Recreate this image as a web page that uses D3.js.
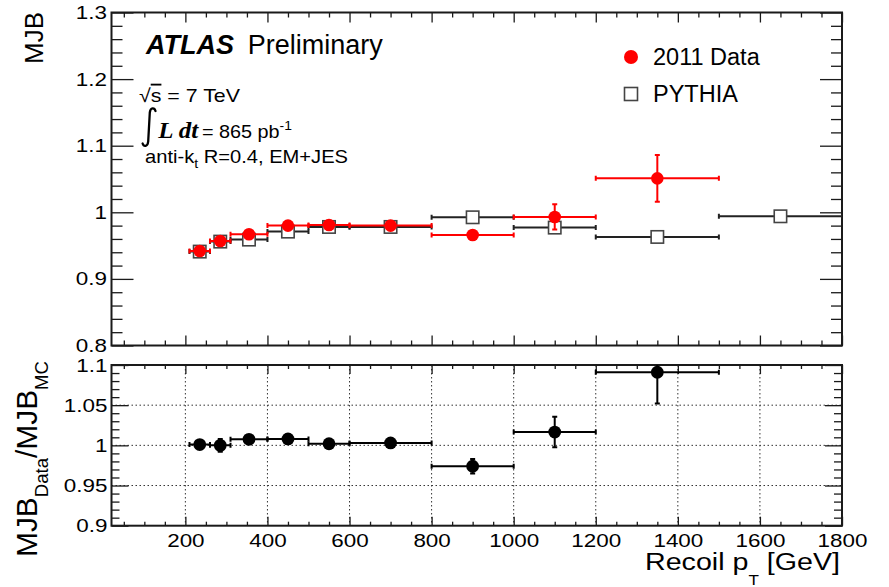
<!DOCTYPE html>
<html><head><meta charset="utf-8">
<script src="https://cdn.jsdelivr.net/npm/d3@7"></script>
<style>
html,body{margin:0;padding:0;background:#fff;}
svg{display:block;font-family:"Liberation Sans",Arial,Helvetica,sans-serif;}
</style></head>
<body>
<svg id="c" width="889" height="587"></svg>
<script>
// ---------------- data ----------------
const binLo     = [210, 260, 310, 400, 500, 600, 800, 1000, 1200, 1500];
const binHi     = [260, 310, 400, 500, 600, 800, 1000, 1200, 1500, 1800];
const binCenter = [235, 285, 355, 450, 550, 700, 900, 1100, 1350, 1650];
const dataMJB   = [0.942, 0.957, 0.967, 0.980, 0.981, 0.980, 0.966, 0.993, 1.051];
const dataErr   = [0.003, 0.003, 0.003, 0.003, 0.003, 0.003, 0.004, 0.019, 0.035];
const mcMJB     = [0.941, 0.956, 0.959, 0.971, 0.978, 0.978, 0.9925, 0.977, 0.963, 0.994];
const mcErr     = [0.002, 0.002, 0.002, 0.002, 0.002, 0.002, 0.003, 0.004, 0.004, 0.004];
const ratio     = [1.001, 1.000, 1.0075, 1.008, 1.002, 1.003, 0.974, 1.0165, 1.091];
const ratioErr  = [0.004, 0.008, 0.003, 0.003, 0.002, 0.003, 0.009, 0.019, 0.039];
const xTickVals   = [200, 400, 600, 800, 1000, 1200, 1400, 1600, 1800];
const xTickLabels = ["200","400","600","800","1000","1200","1400","1600","1800"];
const topYTickVals   = [0.8, 0.9, 1.0, 1.1, 1.2, 1.3];
const topYTickLabels = ["0.8","0.9","1","1.1","1.2","1.3"];
const botYTickVals   = [0.9, 0.95, 1.0, 1.05, 1.1];
const botYTickLabels = ["0.9","0.95","1","1.05","1.1"];
const legendLabels = ["2011 Data", "PYTHIA"];

// ---------------- layout ----------------
const L = 111.5, R = 842;
const T1 = 12.5, B1 = 345.5;
const T2 = 365, B2 = 525.7;
const red = "#ff0000", ink = "#1a1a1a";

const svg = d3.select("#c");
const x = d3.scaleLinear().domain([20, 1800]).range([L, R]);
const yT = d3.scaleLinear().domain([0.8, 1.3]).range([B1, T1]);
const yB = d3.scaleLinear().domain([0.9, 1.1]).range([B2, T2]);

function stretch(sel, k) {
  sel.each(function(){
    const w = this.getComputedTextLength();
    d3.select(this).attr("textLength", w * k).attr("lengthAdjust", "spacingAndGlyphs");
  });
}
function fixW(sel, w) {
  sel.attr("textLength", w).attr("lengthAdjust", "spacingAndGlyphs");
}
function styleAxis(g) {
  g.select(".domain").remove();
  g.selectAll(".tick line").attr("stroke", ink).attr("stroke-width", 1.3);
  g.selectAll("text").attr("fill", "#000");
}
function rangeVals(a, b, s) { const o=[]; for (let v=a; v<=b+1e-9; v+=s) o.push(+v.toFixed(4)); return o; }

// ---------------- grid (ratio panel) ----------------
const grid = svg.append("g").attr("stroke", "#333").attr("stroke-width", 1).attr("stroke-dasharray", "1.5,2.5");
grid.selectAll("line.v").data(xTickVals.filter(v => v < 1800)).join("line")
  .attr("x1", d => x(d)).attr("x2", d => x(d)).attr("y1", T2).attr("y2", B2);
grid.selectAll("line.h").data([0.95, 1.0, 1.05]).join("line")
  .attr("x1", L).attr("x2", R).attr("y1", d => yB(d)).attr("y2", d => yB(d));

// ---------------- axes ----------------
const xMinor = rangeVals(50, 1800, 50).filter(v => xTickVals.indexOf(v) < 0);
// top panel
[[T1, d3.axisTop], [B1, d3.axisBottom]].forEach(([yy, ax]) => {
  svg.append("g").attr("transform", `translate(0,${yy})`)
    .call(ax(x).tickValues(xTickVals).tickSize(-10).tickFormat("")).call(styleAxis);
  svg.append("g").attr("transform", `translate(0,${yy})`)
    .call(ax(x).tickValues(xMinor).tickSize(-5).tickFormat("")).call(styleAxis);
});
const yTMinor = rangeVals(0.8, 1.3, 0.02).filter(v => Math.abs((v*10) - Math.round(v*10)) > 1e-6);
svg.append("g").attr("transform", `translate(${L},0)`)
  .call(d3.axisLeft(yT).tickValues(topYTickVals).tickSize(-22).tickPadding(4.5)
    .tickFormat((d,i) => topYTickLabels[i])).call(styleAxis)
  .selectAll("text").attr("font-size", 19).call(stretch, 1.18);
svg.append("g").attr("transform", `translate(${L},0)`)
  .call(d3.axisLeft(yT).tickValues(yTMinor).tickSize(-11).tickFormat("")).call(styleAxis);
svg.append("g").attr("transform", `translate(${R},0)`)
  .call(d3.axisRight(yT).tickValues(topYTickVals).tickSize(-22).tickFormat("")).call(styleAxis);
svg.append("g").attr("transform", `translate(${R},0)`)
  .call(d3.axisRight(yT).tickValues(yTMinor).tickSize(-11).tickFormat("")).call(styleAxis);

// bottom panel
svg.append("g").attr("transform", `translate(0,${B2})`)
  .call(d3.axisBottom(x).tickValues(xTickVals).tickSize(-9).tickPadding(7.5)
    .tickFormat((d,i) => xTickLabels[i])).call(styleAxis)
  .selectAll("text").attr("font-size", 19).call(stretch, 1.18);
svg.append("g").attr("transform", `translate(0,${B2})`)
  .call(d3.axisBottom(x).tickValues(xMinor).tickSize(-4).tickFormat("")).call(styleAxis);
svg.append("g").attr("transform", `translate(0,${T2})`)
  .call(d3.axisTop(x).tickValues(xTickVals).tickSize(-9).tickFormat("")).call(styleAxis);
svg.append("g").attr("transform", `translate(0,${T2})`)
  .call(d3.axisTop(x).tickValues(xMinor).tickSize(-4).tickFormat("")).call(styleAxis);
const yBMinor = rangeVals(0.9, 1.1, 0.01).filter(v => Math.abs(v*20 - Math.round(v*20)) > 1e-6);
svg.append("g").attr("transform", `translate(${L},0)`)
  .call(d3.axisLeft(yB).tickValues(botYTickVals).tickSize(-17).tickPadding(4)
    .tickFormat((d,i) => botYTickLabels[i])).call(styleAxis)
  .selectAll("text").attr("font-size", 19).call(stretch, 1.18);
svg.append("g").attr("transform", `translate(${L},0)`)
  .call(d3.axisLeft(yB).tickValues(yBMinor).tickSize(-8).tickFormat("")).call(styleAxis);
svg.append("g").attr("transform", `translate(${R},0)`)
  .call(d3.axisRight(yB).tickValues(botYTickVals).tickSize(-17).tickFormat("")).call(styleAxis);
svg.append("g").attr("transform", `translate(${R},0)`)
  .call(d3.axisRight(yB).tickValues(yBMinor).tickSize(-8).tickFormat("")).call(styleAxis);

// frames
svg.append("rect").attr("x", L).attr("y", T1).attr("width", R-L).attr("height", B1-T1)
  .attr("fill", "none").attr("stroke", ink).attr("stroke-width", 2);
svg.append("rect").attr("x", L).attr("y", T2).attr("width", R-L).attr("height", B2-T2)
  .attr("fill", "none").attr("stroke", ink).attr("stroke-width", 2);

// clip paths
const defs = svg.append("defs");
defs.append("clipPath").attr("id", "clipT").append("rect").attr("x", L).attr("y", T1).attr("width", R-L).attr("height", B1-T1);
defs.append("clipPath").attr("id", "clipB").append("rect").attr("x", L).attr("y", T2).attr("width", R-L).attr("height", B2-T2);

// error-bar helper
function errorBars(g, rows, yS, color, sw, markerHalf) {
  const cap = 2.5;
  rows.forEach(r => {
    const xl = x(r.lo), xh = x(r.hi), xc = x(r.c), yc = yS(r.v);
    g.append("line").attr("x1", xl).attr("x2", xh).attr("y1", yc).attr("y2", yc)
      .attr("stroke", color).attr("stroke-width", sw);
    g.append("line").attr("x1", xl).attr("x2", xl).attr("y1", yc-cap).attr("y2", yc+cap)
      .attr("stroke", color).attr("stroke-width", sw);
    g.append("line").attr("x1", xh).attr("x2", xh).attr("y1", yc-cap).attr("y2", yc+cap)
      .attr("stroke", color).attr("stroke-width", sw);
    const y1 = yS(r.v + r.e), y2 = yS(r.v - r.e);
    if (y2 - y1 > 2*markerHalf) {
      g.append("line").attr("x1", xc).attr("x2", xc).attr("y1", y1).attr("y2", y2)
        .attr("stroke", color).attr("stroke-width", sw);
      [y1, y2].forEach(yy => g.append("line").attr("x1", xc-cap).attr("x2", xc+cap)
        .attr("y1", yy).attr("y2", yy).attr("stroke", color).attr("stroke-width", sw));
    }
  });
}

// ---------------- top panel marks ----------------
const gT = svg.append("g").attr("clip-path", "url(#clipT)");
const mcRows = mcMJB.map((v,i) => ({lo: binLo[i], hi: binHi[i], c: binCenter[i], v, e: mcErr[i]}));
const dRows = dataMJB.map((v,i) => ({lo: binLo[i], hi: binHi[i], c: binCenter[i], v, e: dataErr[i]}));
errorBars(gT.append("g"), mcRows, yT, "#222", 2, 6);
gT.append("g").selectAll("rect").data(mcRows).join("rect")
  .attr("x", d => x(d.c) - 6.2).attr("y", d => yT(d.v) - 6.2).attr("width", 12.4).attr("height", 12.4)
  .attr("fill", "#fff").attr("stroke", "#444").attr("stroke-width", 1.6);
errorBars(gT.append("g"), dRows, yT, red, 2, 6);
gT.append("g").selectAll("circle").data(dRows).join("circle")
  .attr("cx", d => x(d.c)).attr("cy", d => yT(d.v)).attr("r", 6.3).attr("fill", red);

// ---------------- ratio panel marks ----------------
const gB = svg.append("g").attr("clip-path", "url(#clipB)");
const rRows = ratio.map((v,i) => ({lo: binLo[i], hi: binHi[i], c: binCenter[i], v, e: ratioErr[i]}));
errorBars(gB.append("g"), rRows, yB, "#000", 2, 6);
gB.append("g").selectAll("circle").data(rRows).join("circle")
  .attr("cx", d => x(d.c)).attr("cy", d => yB(d.v)).attr("r", 6.4).attr("fill", "#000");

// ---------------- legend ----------------
svg.append("circle").attr("cx", 631).attr("cy", 57).attr("r", 7).attr("fill", red);
svg.append("rect").attr("x", 624.5).attr("y", 87.5).attr("width", 13).attr("height", 13)
  .attr("fill", "#fff").attr("stroke", "#444").attr("stroke-width", 1.6);
svg.selectAll("text.leg").data(legendLabels).join("text").attr("class", "leg")
  .attr("x", 653).attr("y", (d,i) => 65 + i*37).attr("font-size", 23.5).text(d => d);

// ---------------- annotations ----------------
const atl = svg.append("text").attr("x", 146).attr("y", 54.3).attr("font-size", 27);
atl.append("tspan").attr("font-weight", "bold").attr("font-style", "italic").text("ATLAS");
atl.append("tspan").attr("x", 247.7).text("Preliminary");

const sq = svg.append("text").attr("x", 139).attr("y", 101.7).attr("font-size", 18.5);
sq.append("tspan").text("√");
sq.append("tspan").attr("text-decoration", "overline").text("s");
sq.append("tspan").text(" = 7 TeV");
fixW(sq, 101);

// integral sign (drawn as a glyph-like stroke)
svg.append("path")
  .attr("d", "M155.5,111 C154.5,107.5 150.5,107 149.8,112.5 L148.2,141.5 C147.6,147 143.8,147 142.6,143.5")
  .attr("fill", "none").attr("stroke", "#000").attr("stroke-width", 2.3).attr("stroke-linecap", "round");
svg.append("text").attr("x", 158.3).attr("y", 138.3).attr("font-size", 23)
  .attr("font-family", "Liberation Serif").attr("font-weight", "bold").attr("font-style", "italic")
  .text("L dt").call(fixW, 40);
const lum = svg.append("text").attr("x", 202).attr("y", 138.3).attr("font-size", 18.5);
lum.append("tspan").text("= 865 pb");
lum.append("tspan").attr("font-size", 13).attr("dy", -8).text("-1");
fixW(lum, 90);

const ak = svg.append("text").attr("x", 145).attr("y", 163.3).attr("font-size", 18.5);
ak.append("tspan").text("anti-k");
ak.append("tspan").attr("font-size", 13).attr("dy", 5).text("t");
ak.append("tspan").attr("dy", -5).text(" R=0.4, EM+JES");
fixW(ak, 203);

// axis titles
svg.append("text").attr("transform", "translate(42.7,64) rotate(-90)")
  .attr("font-size", 25).text("MJB").call(fixW, 52);
const yl = svg.append("text").attr("transform", "translate(37,557) rotate(-90)").attr("font-size", 29);
yl.append("tspan").text("MJB");
yl.append("tspan").attr("font-size", 18).attr("dy", 11).text("Data");
yl.append("tspan").attr("dy", -11).text("/MJB");
yl.append("tspan").attr("font-size", 18).attr("dy", 11).text("MC");
fixW(yl, 196);

const xl = svg.append("text").attr("x", 645).attr("y", 570).attr("font-size", 23.5);
xl.append("tspan").text("Recoil p");
xl.append("tspan").attr("font-size", 14).attr("dy", 15).text("T");
xl.append("tspan").attr("dy", -15).text(" [GeV]");
fixW(xl, 195);
</script>
</body></html>
